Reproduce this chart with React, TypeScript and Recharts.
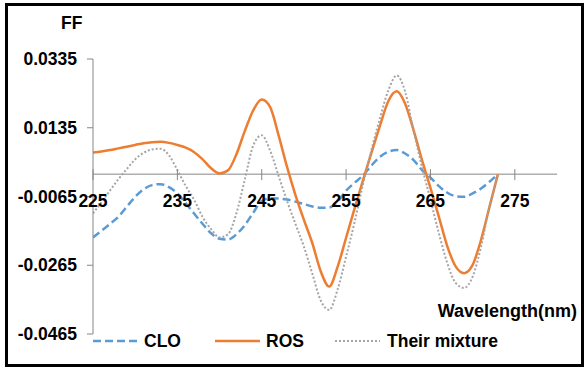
import { LineChart, Line, XAxis, YAxis, ReferenceLine, Legend, Label } from "recharts";

const wavelength = [
  225, 226, 227, 228, 229, 230, 231, 232, 233, 234, 235, 236, 237, 238, 239, 240, 241,
  242, 243, 244, 245, 246, 247, 248, 249, 250, 251, 252, 253, 254, 255, 256, 257, 258,
  259, 260, 261, 262, 263, 264, 265, 266, 267, 268, 269, 270, 271, 272, 273,
];

const clo = [
  -0.0184, -0.0165, -0.0145, -0.0124, -0.0095, -0.0066, -0.0044, -0.0032, -0.0029, -0.0038,
  -0.0056, -0.0085, -0.0115, -0.0145, -0.0172, -0.0188, -0.019, -0.0175, -0.0148, -0.0112,
  -0.0078, -0.007, -0.0071, -0.0074, -0.008, -0.0087, -0.0094, -0.0098, -0.0097, -0.008,
  -0.0048, -0.0025, -0.0004, 0.0025, 0.005, 0.0065, 0.007, 0.006, 0.0041, 0.0012,
  -0.001, -0.0035, -0.0054, -0.0064, -0.0066, -0.0056, -0.0042, -0.0022, 0.0,
];

const ros = [
  0.0063, 0.0066, 0.007, 0.0075, 0.008, 0.0085, 0.009, 0.0093, 0.0094, 0.0091,
  0.0085, 0.0077, 0.0064, 0.0043, 0.0017, 0.0002, 0.0011, 0.0058, 0.0126, 0.0186,
  0.0217, 0.0195, 0.0113, 0.0021, -0.0061, -0.0133, -0.0201, -0.0283, -0.0327, -0.0269,
  -0.0185, -0.01, -0.0018, 0.0062, 0.014, 0.0212, 0.0241, 0.0205, 0.0128, 0.0041,
  -0.004, -0.0124, -0.021, -0.0269, -0.0288, -0.0264, -0.0191, -0.0095, 0.0,
];

const mixture = [
  -0.0114, -0.0082, -0.0048, -0.0015, 0.0015, 0.0043, 0.0062, 0.0072, 0.0074, 0.0055,
  0.0012, -0.0035, -0.0075, -0.0125, -0.016, -0.0184, -0.0175, -0.0114, -0.0015, 0.0084,
  0.0113, 0.0068, -0.0005, -0.0078, -0.0145, -0.0211, -0.029, -0.0368, -0.0395, -0.0335,
  -0.024, -0.014, -0.003, 0.007, 0.0162, 0.0243, 0.0287, 0.024, 0.0125, 0.0021,
  -0.0075, -0.0172, -0.0259, -0.0317, -0.0331, -0.0298, -0.0211, -0.0095, 0.0,
];

const xTicks = [225, 235, 245, 255, 265, 275];
const yTicks = [-0.0465, -0.0265, -0.0065, 0.0135, 0.0335];

const data = wavelength.map((wl, i) => ({
  wl,
  CLO: clo[i],
  ROS: ros[i],
  mix: mixture[i],
}));

const W = 586;
const H = 370;
const Y_MIN = -0.0465;
const Y_MAX = 0.0335;
const X_AXIS_H = 1;
const margin = { top: 59, right: 29, bottom: 35, left: 0 };
const PLOT_H = H - margin.top - margin.bottom - X_AXIS_H;
const FONT = "'Liberation Sans', Arial, sans-serif";
const AXIS = "#868686";

const textStyle = { fontFamily: FONT, fontSize: 17.5, fontWeight: 700, fill: "#000" };

// x axis sits on the zero line, so shift the ticks up from the plot bottom
const XTick = (props: any) => {
  const { x, y, payload } = props;
  const zy = y - (PLOT_H * (0 - Y_MIN)) / (Y_MAX - Y_MIN);
  return (
    <g>
      <line x1={x} x2={x} y1={zy - 5} y2={zy + 6} stroke={AXIS} />
      <text x={x} y={zy + 33} textAnchor="middle" {...textStyle}>
        {payload.value}
      </text>
    </g>
  );
};

const LegendBox = () => (
  <svg width={430} height={22} style={{ display: "block" }}>
    <line x1={0} x2={45} y1={11} y2={11} stroke="#5B9BD5" strokeWidth={2.5} strokeDasharray="8 4" />
    <text x={51} y={17} {...textStyle}>CLO</text>
    <line x1={122} x2={167} y1={11} y2={11} stroke="#ED7D31" strokeWidth={2.5} />
    <text x={173} y={17} {...textStyle}>ROS</text>
    <line x1={242} x2={287} y1={11} y2={11} stroke="#A5A5A5" strokeWidth={2} strokeDasharray="2 2" />
    <text x={294} y={17} {...textStyle}>Their mixture</text>
  </svg>
);

export default function App() {
  return (
    <div style={{ position: "absolute", left: 0, top: 0, width: W, height: H, background: "#fff" }}>
      <LineChart width={W} height={H} data={data} margin={margin} style={{ fontFamily: FONT }}>
        <XAxis
          dataKey="wl"
          type="number"
          domain={[225, 280]}
          ticks={xTicks}
          interval={0}
          axisLine={false}
          tickLine={false}
          tickSize={0}
          tickMargin={0}
          height={X_AXIS_H}
          tick={(p: any) => <XTick {...p} />}
          allowDataOverflow
        >
          <Label
            position="insideBottomRight"
            content={() => (
              <text x={577} y={317} textAnchor="end" {...textStyle} fontSize={18}>
                Wavelength(nm)
              </text>
            )}
          />
        </XAxis>
        <YAxis
          domain={[Y_MIN, Y_MAX]}
          ticks={yTicks}
          interval={0}
          width={93}
          axisLine={{ stroke: AXIS }}
          tickLine={{ stroke: AXIS }}
          tickSize={6}
          tickMargin={10}
          tick={textStyle}
          tickFormatter={(v: number) => v.toFixed(4)}
          allowDataOverflow
        >
          <Label
            content={() => (
              <text x={61} y={29} {...textStyle}>
                FF
              </text>
            )}
          />
        </YAxis>
        <ReferenceLine y={0} stroke={AXIS} strokeWidth={1} />
        <Legend
          layout="horizontal"
          verticalAlign="middle"
          align="center"
          content={() => <LegendBox />}
          wrapperStyle={{ left: 93, top: 330, width: 430, height: 22 }}
        />
        <Line
          type="monotone"
          dataKey="CLO"
          stroke="#5B9BD5"
          strokeWidth={2.5}
          strokeDasharray="8 4"
          dot={false}
          isAnimationActive={false}
        />
        <Line
          type="monotone"
          dataKey="ROS"
          stroke="#ED7D31"
          strokeWidth={2.5}
          dot={false}
          isAnimationActive={false}
        />
        <Line
          type="monotone"
          dataKey="mix"
          stroke="#A5A5A5"
          strokeWidth={2}
          strokeDasharray="2 2"
          dot={false}
          isAnimationActive={false}
        />
      </LineChart>
      <div
        style={{
          position: "absolute",
          left: 5,
          top: 3,
          width: 579,
          height: 364,
          border: "3px solid #000",
          boxSizing: "border-box",
          pointerEvents: "none",
        }}
      />
    </div>
  );
}
